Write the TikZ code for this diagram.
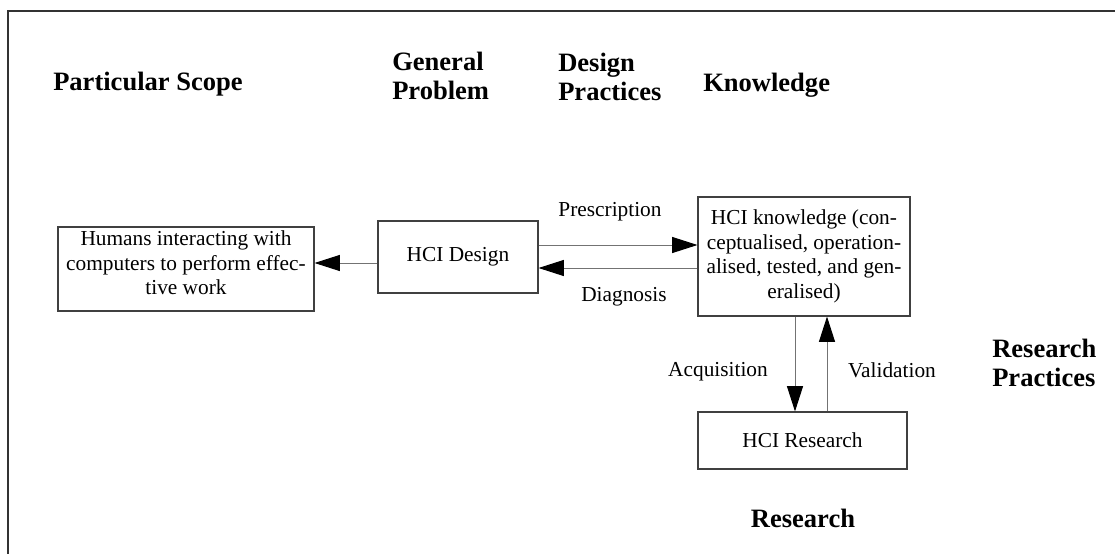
\documentclass[tikz,border=0pt]{standalone}
\usepackage{fontspec}
\setmainfont{Liberation Serif}
\usetikzlibrary{arrows.meta}
\begin{document}
\begin{tikzpicture}[x=0.75pt,y=-0.75pt,
  box/.style={draw=black!75, line width=0.8pt, inner sep=0pt, align=center,
    font=\fontsize{16}{18.4}\selectfont},
  lbl/.style={inner sep=0pt, font=\fontsize{16}{18.4}\selectfont},
  head/.style={inner sep=0pt, anchor=west, align=left,
    font=\fontsize{19.9}{21.75}\selectfont\bfseries},
  arr/.style={draw=black!55, line width=0.75pt,
    -{Triangle[length=19pt,width=12pt,color=black]}}]
\useasboundingbox (0,0) rectangle (1115,554);
% frame
\draw[line width=1.5pt, black!80] (1115,11) -- (8,11) -- (8,554);

% column and row headings
\node[head] (hscope) at (53,84) {Particular Scope};
\node[head] (hprob) at (392,76) {General\\Problem};
\node[head] (hdes) at (558,77) {Design\\Practices};
\node[head] (hknow) at (703,85) {Knowledge};
\node[head] (hrp) at (992,363) {Research\\Practices};
\node[head, anchor=center] (hres) at (803,518) {Research};

% boxes (the text of the first box sits slightly above its middle)
\node[box, minimum width=192pt, minimum height=63pt, text depth=9.5pt] (humans) at (186,269)
  {Humans interacting with\\computers to perform effec-\\tive work};
\node[box, minimum width=120pt, minimum height=54pt] (design) at (458,257)
  {HCI Design};
\node[box, minimum width=159pt, minimum height=89.25pt] (know) at (804,256.5)
  {HCI knowledge (con-\\ceptualised, operation-\\alised, tested, and gen-\\eralised)};
\node[box, minimum width=156.75pt, minimum height=42.75pt] (research) at (802.5,440.5)
  {HCI Research};

% rows and columns of the connectors
\coordinate (yh) at (0,263);
\coordinate (yp) at (0,245);
\coordinate (yd) at (0,268);
\coordinate (xa) at (795,0);
\coordinate (xv) at (827,0);

% connectors
\draw[arr] (design.west |- yh) -- (humans.east |- yh);
\draw[arr] (design.east |- yp) -- (know.west |- yp);
\draw[arr] (know.west |- yd) -- (design.east |- yd);
\draw[arr] (know.south -| xa) -- (research.north -| xa);
\draw[arr] (research.north -| xv) -- (know.south -| xv);

% connector labels
\node[lbl] (lpre) at (610,212) {Prescription};
\node[lbl] (ldia) at (624,297) {Diagnosis};
\node[lbl] (lacq) at (718,372) {Acquisition};
\node[lbl] (lval) at (892,370) {Validation};
\end{tikzpicture}
\end{document}
